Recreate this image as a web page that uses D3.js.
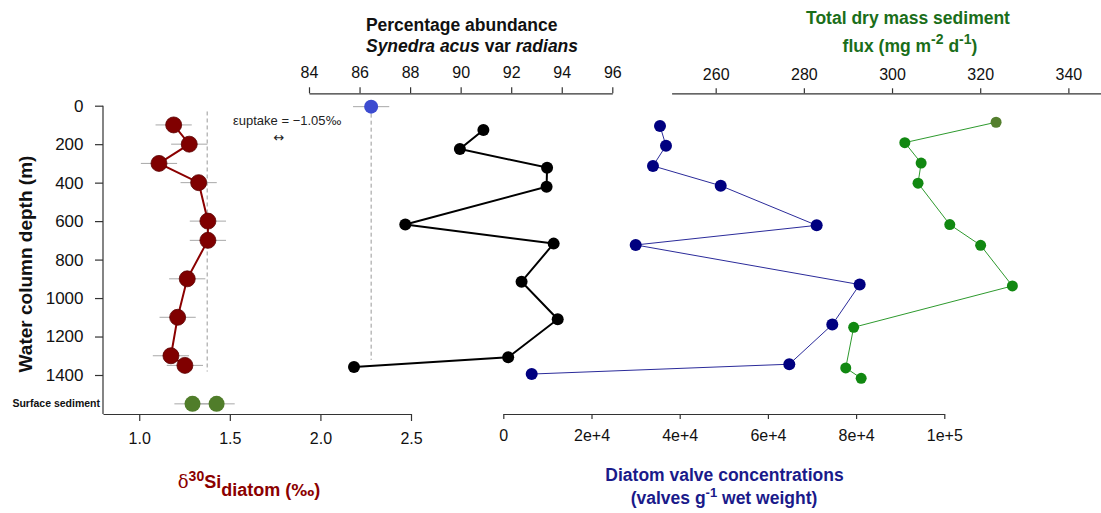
<!DOCTYPE html>
<html><head><meta charset="utf-8">
<script src="https://cdn.jsdelivr.net/npm/d3@7"></script>
<style>
body{margin:0;background:#fff;}
svg{display:block;font-family:"Liberation Sans",Arial,sans-serif;}
.axis path,.axis line{stroke:#333;stroke-width:1.2;}
.axis text{fill:#111;font-size:16px;font-family:"Liberation Sans",Arial,sans-serif;}
</style></head>
<body>
<svg id="c" width="1101" height="513"></svg>
<script>
// ---------------- data ----------------
const siDepth   = [100, 200, 300, 400, 600, 700, 900, 1100, 1300, 1350];
const siValue   = [1.19, 1.276, 1.109, 1.328, 1.379, 1.379, 1.265, 1.212, 1.175, 1.252];
const siErr     = [0.1, 0.1, 0.1, 0.1, 0.1, 0.1, 0.1, 0.1, 0.1, 0.1];
const surfaceValue = [1.294, 1.427];
const surfaceErr   = [0.1, 0.1];
const seawaterSi = 2.28, seawaterErr = 0.1;
const meanDiatomSi = 1.375;

const pctDepth = [126, 225, 322, 421, 618, 717, 915, 1110, 1308, 1358];
const pctValue = [90.9, 89.97, 93.42, 93.4, 87.81, 93.68, 92.41, 93.84, 91.88, 85.78];

const valveDepth = [105, 208, 313, 416, 622, 724, 930, 1138, 1344, 1395];
const valveValue = [35530, 36890, 33940, 49300, 71060, 30020, 80810, 74600, 64850, 6440];

const fluxDepth = [86, 192, 298, 403, 618, 726, 937, 1152, 1363, 1417];
const fluxValue = [323.6, 302.9, 306.6, 305.9, 313.1, 320.1, 327.3, 291.3, 289.5, 293.0];

const depthTicks = [0, 200, 400, 600, 800, 1000, 1200, 1400];
const siTicks    = [1.0, 1.5, 2.0, 2.5];
const pctTicks   = [84, 86, 88, 90, 92, 94, 96];
const valveTicks = [0, 20000, 40000, 60000, 80000, 100000];
const valveTickLabels = ["0", "2e+4", "4e+4", "6e+4", "8e+4", "1e+5"];
const fluxTicks  = [260, 280, 300, 320, 340];
const surfaceLabel = "Surface sediment";
const surfaceDepth = 1550;

// ---------------- scales ----------------
const svg = d3.select("#c");
const y = d3.scaleLinear().domain([0, 1400]).range([105.7, 375]);
const xSi = d3.scaleLinear().domain([0.8, 2.5]).range([103, 411]);
const xPct = d3.scaleLinear().domain([84, 96]).range([309, 612.3]);
const xValve = d3.scaleLinear().domain([0, 100000]).range([503.3, 944.3]);
const xFlux = d3.scaleLinear().domain([250, 347.4]).range([671.6, 1101]);

// ---------------- axes ----------------
const gy = svg.append("g").attr("class","axis").attr("transform","translate(103,0)")
  .call(d3.axisLeft(y).tickValues(depthTicks).tickSize(8).tickPadding(11.5).tickSizeOuter(0).tickFormat(d3.format("d")));
gy.select(".domain").attr("d", `M0,${y(0)}V414`);
gy.selectAll("text").style("font-size","17px");

svg.append("g").attr("class","axis").attr("transform","translate(0,414)")
  .call(d3.axisBottom(xSi).tickValues(siTicks).tickSize(7).tickPadding(12).tickSizeOuter(0).tickFormat(d3.format(".1f")));

svg.append("g").attr("class","axis").attr("transform","translate(0,414)")
  .call(d3.axisBottom(xValve).tickValues(valveTicks).tickSize(5).tickPadding(11).tickSizeOuter(0)
    .tickFormat((d,i)=>valveTickLabels[i]));

svg.append("g").attr("class","axis").attr("transform","translate(0,93.3)")
  .call(d3.axisTop(xPct).tickValues(pctTicks).tickSize(6).tickPadding(9).tickSizeOuter(0));

svg.append("g").attr("class","axis").attr("transform","translate(0,93.3)")
  .call(d3.axisTop(xFlux).tickValues(fluxTicks).tickSize(5).tickPadding(8).tickSizeOuter(0));

// ---------------- titles ----------------
svg.append("text").attr("transform","translate(32,264) rotate(-90)").attr("text-anchor","middle")
  .style("font-size","19px").style("font-weight","bold").attr("fill","#111").text("Water column depth (m)");

svg.append("text").attr("x",100).attr("y",y(surfaceDepth)+3.5).attr("text-anchor","end")
  .style("font-size","10.5px").style("font-weight","bold").attr("fill","#111").text(surfaceLabel);

svg.append("text").attr("x",461.7).attr("y",31).attr("text-anchor","middle")
  .style("font-size","17.5px").style("font-weight","bold").attr("fill","#111").text("Percentage abundance");
const t2 = svg.append("text").attr("x",472).attr("y",52).attr("text-anchor","middle")
  .style("font-size","17.5px").style("font-weight","bold").attr("fill","#111");
t2.append("tspan").style("font-style","italic").text("Synedra acus");
t2.append("tspan").text(" var ");
t2.append("tspan").style("font-style","italic").text("radians");

svg.append("text").attr("x",908).attr("y",24).attr("text-anchor","middle")
  .style("font-size","17.5px").style("font-weight","bold").attr("fill","#1a6e1a").text("Total dry mass sediment");
const g2 = svg.append("text").attr("x",910).attr("y",52).attr("text-anchor","middle")
  .style("font-size","17.5px").style("font-weight","bold").attr("fill","#1a6e1a");
g2.append("tspan").text("flux (mg m");
g2.append("tspan").attr("dy",-8).style("font-size","14px").text("-2");
g2.append("tspan").attr("dy",8).text(" d");
g2.append("tspan").attr("dy",-8).style("font-size","14px").text("-1");
g2.append("tspan").attr("dy",8).text(")");

svg.append("text").attr("x",724.5).attr("y",480.5).attr("text-anchor","middle")
  .style("font-size","17.5px").style("font-weight","bold").attr("fill","#1a1a8a").text("Diatom valve concentrations");
const v2 = svg.append("text").attr("x",724).attr("y",504).attr("text-anchor","middle")
  .style("font-size","17.5px").style("font-weight","bold").attr("fill","#1a1a8a");
v2.append("tspan").text("(valves g");
v2.append("tspan").attr("dy",-7).style("font-size","13px").text("-1");
v2.append("tspan").attr("dy",7).text(" wet weight)");

const s1 = svg.append("text").attr("x",249).attr("y",488).attr("text-anchor","middle")
  .style("font-size","18px").style("font-weight","bold").attr("fill","#8b0000");
s1.append("tspan").style("font-family","'DejaVu Serif',serif").style("font-weight","normal").text("δ");
s1.append("tspan").attr("dy",-7).style("font-size","14px").text("30");
s1.append("tspan").attr("dy",7).text("Si");
s1.append("tspan").attr("dy",8).text("diatom");
s1.append("tspan").text(" (");
s1.append("tspan").style("font-family","'DejaVu Sans',sans-serif").style("font-size","16px").text("‰");
s1.append("tspan").text(")");

const eps = svg.append("text").attr("x",233).attr("y",125).style("font-size","13px").attr("fill","#222");
eps.append("tspan").text("εuptake = −1.05");
eps.append("tspan").style("font-family","'DejaVu Sans',sans-serif").style("font-size","12px").text("‰");
svg.append("text").attr("x",279).attr("y",142).attr("text-anchor","middle")
  .style("font-family","'DejaVu Sans',sans-serif").style("font-size","13px").attr("fill","#222").text("↔");

// ---------------- reference lines ----------------
svg.append("line").attr("x1",xSi(meanDiatomSi)).attr("x2",xSi(meanDiatomSi)).attr("y1",y(30)).attr("y2",y(1382))
  .attr("stroke","#999").attr("stroke-width",1).attr("stroke-dasharray","4,3");
svg.append("line").attr("x1",xSi(seawaterSi)).attr("x2",xSi(seawaterSi)).attr("y1",y(5)).attr("y2",y(1322))
  .attr("stroke","#999").attr("stroke-width",1).attr("stroke-dasharray","4,3");

// ---------------- Si panel ----------------
const errColor = "#a8a8a8";
svg.append("g").selectAll("line").data(siDepth).join("line")
  .attr("x1",(d,i)=>xSi(siValue[i]-siErr[i])).attr("x2",(d,i)=>xSi(siValue[i]+siErr[i]))
  .attr("y1",d=>y(d)).attr("y2",d=>y(d)).attr("stroke",errColor).attr("stroke-width",1);
svg.append("path").datum(siDepth).attr("fill","none").attr("stroke","#8b0000").attr("stroke-width",2)
  .attr("d", d3.line().x((d,i)=>xSi(siValue[i])).y(d=>y(d)));
svg.append("g").selectAll("circle").data(siDepth).join("circle")
  .attr("cx",(d,i)=>xSi(siValue[i])).attr("cy",d=>y(d)).attr("r",8)
  .attr("fill","#800000").attr("stroke","#5a0000").attr("stroke-width",0.8);

// surface sediment
svg.append("g").selectAll("line").data(surfaceValue).join("line")
  .attr("x1",(d,i)=>xSi(d-surfaceErr[i])).attr("x2",(d,i)=>xSi(d+surfaceErr[i]))
  .attr("y1",y(surfaceDepth)).attr("y2",y(surfaceDepth)).attr("stroke",errColor).attr("stroke-width",1);
svg.append("g").selectAll("circle").data(surfaceValue).join("circle")
  .attr("cx",d=>xSi(d)).attr("cy",y(surfaceDepth)).attr("r",8).attr("fill","#507d2a");

// seawater point
svg.append("line").attr("x1",xSi(seawaterSi-seawaterErr)).attr("x2",xSi(seawaterSi+seawaterErr))
  .attr("y1",y(5)).attr("y2",y(5)).attr("stroke",errColor).attr("stroke-width",1);
svg.append("circle").attr("cx",xSi(seawaterSi)).attr("cy",y(5)).attr("r",7).attr("fill","#3c4bd0");

// ---------------- percentage panel ----------------
svg.append("path").datum(pctDepth).attr("fill","none").attr("stroke","#000").attr("stroke-width",2)
  .attr("d", d3.line().x((d,i)=>xPct(pctValue[i])).y(d=>y(d)));
svg.append("g").selectAll("circle").data(pctDepth).join("circle")
  .attr("cx",(d,i)=>xPct(pctValue[i])).attr("cy",d=>y(d)).attr("r",6).attr("fill","#000");

// ---------------- valve panel ----------------
svg.append("path").datum(valveDepth).attr("fill","none").attr("stroke","#2b2b9a").attr("stroke-width",1)
  .attr("d", d3.line().x((d,i)=>xValve(valveValue[i])).y(d=>y(d)));
svg.append("g").selectAll("circle").data(valveDepth).join("circle")
  .attr("cx",(d,i)=>xValve(valveValue[i])).attr("cy",d=>y(d)).attr("r",6).attr("fill","#000080");

// ---------------- flux panel ----------------
svg.append("path").datum(fluxDepth).attr("fill","none").attr("stroke","#2e9a2e").attr("stroke-width",1)
  .attr("d", d3.line().x((d,i)=>xFlux(fluxValue[i])).y(d=>y(d)));
svg.append("g").selectAll("circle").data(fluxDepth).join("circle")
  .attr("cx",(d,i)=>xFlux(fluxValue[i])).attr("cy",d=>y(d)).attr("r",5.5)
  .attr("fill",(d,i)=> i===0 ? "#547f2e" : "#118811");
</script>
</body></html>
